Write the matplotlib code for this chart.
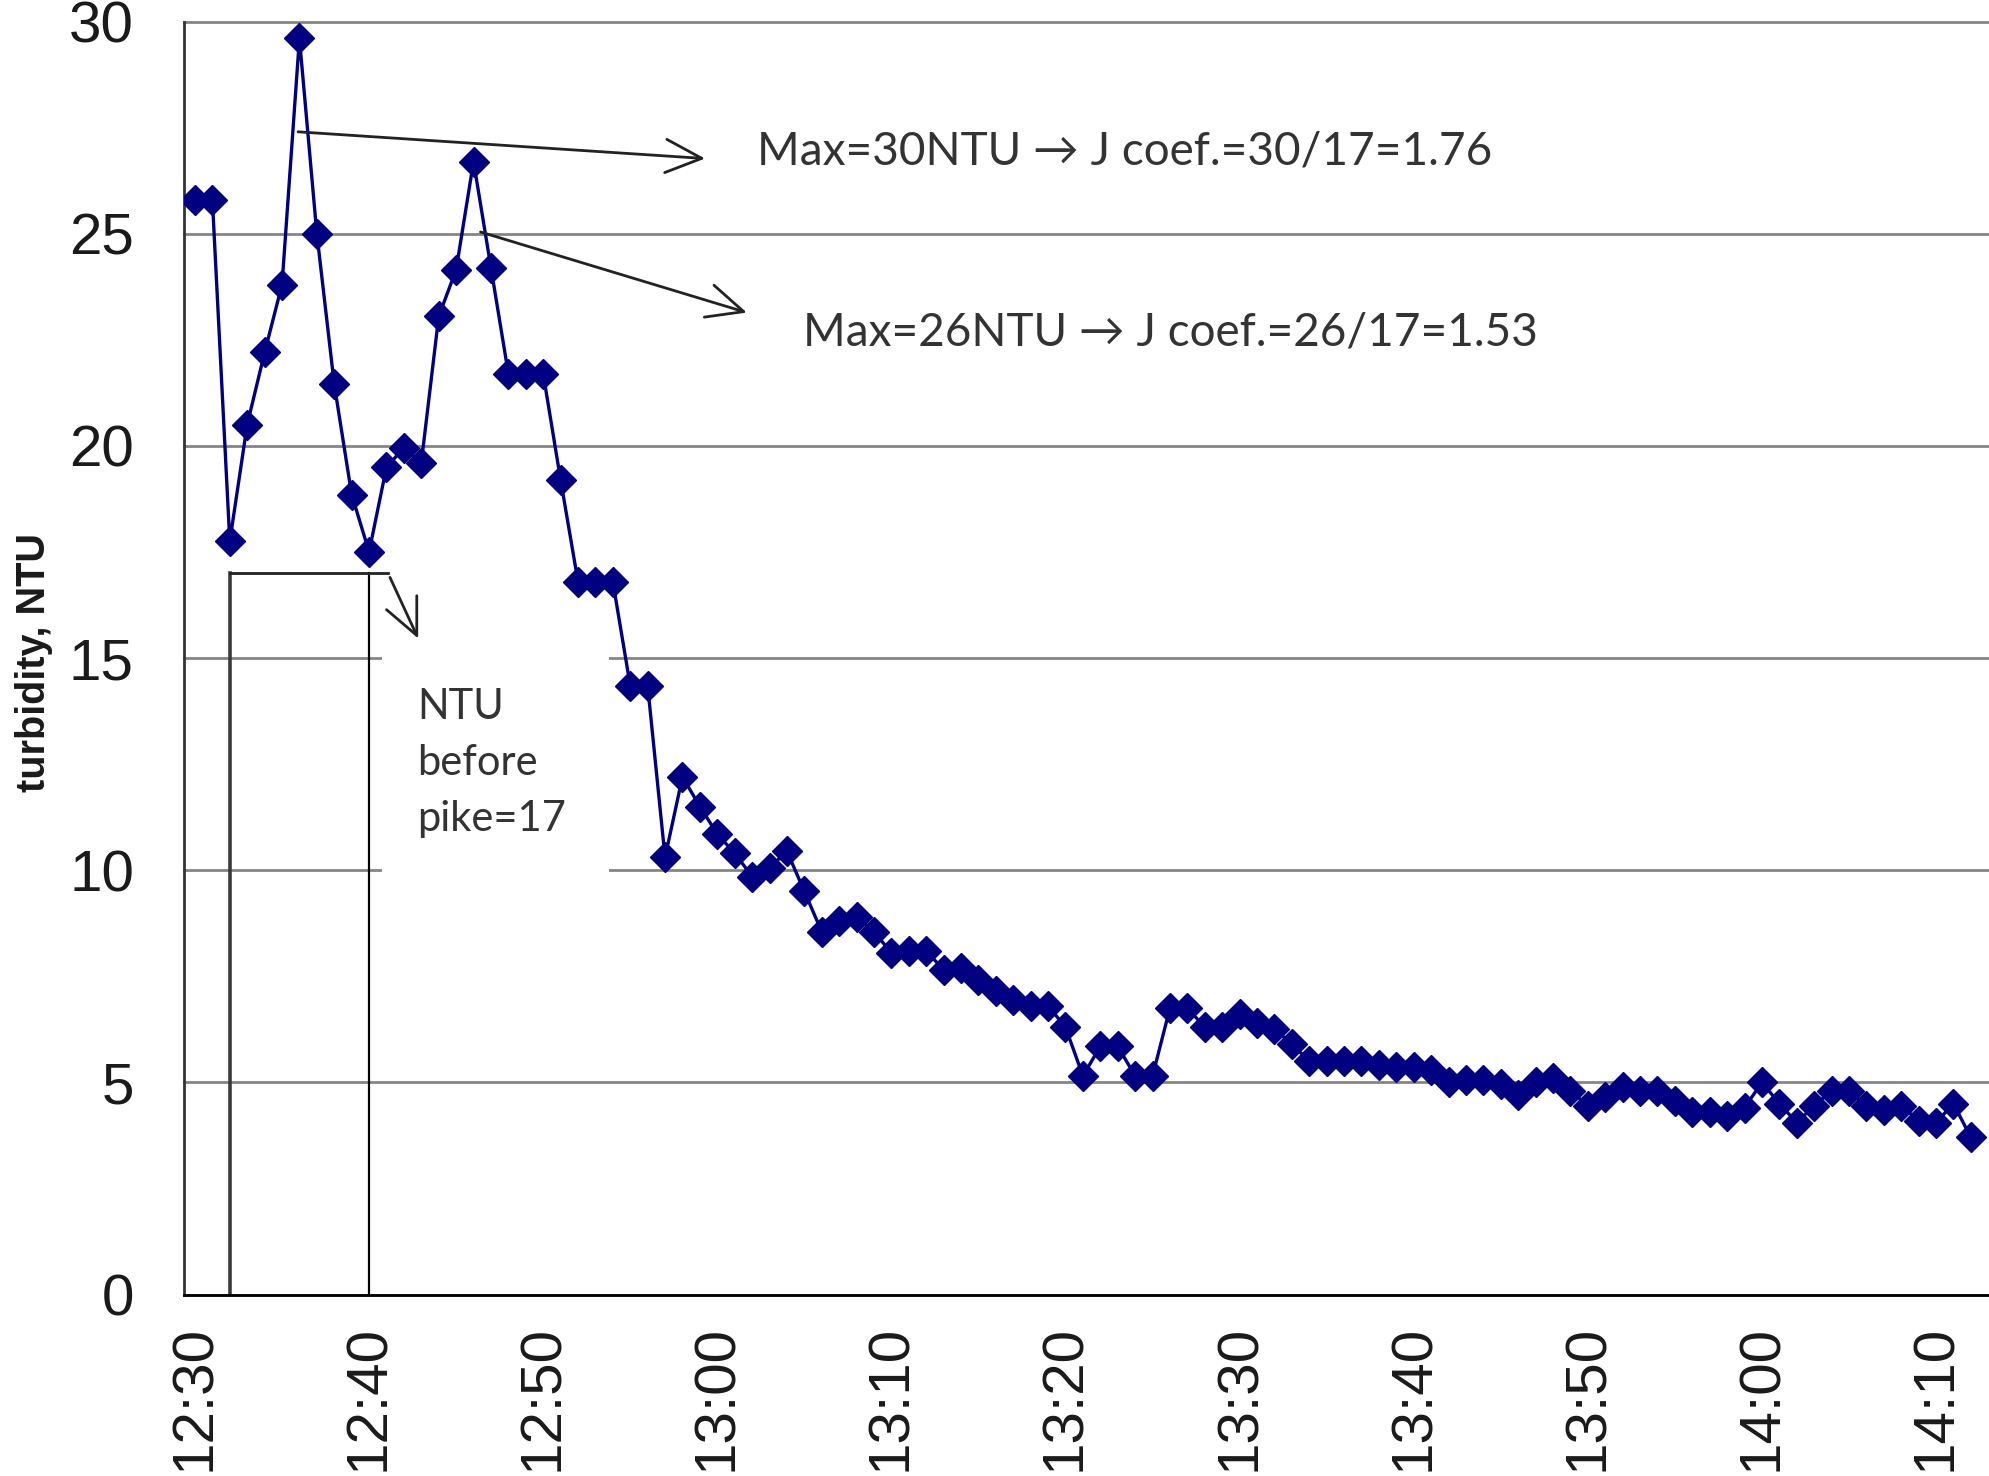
import matplotlib.pyplot as plt
import numpy as np
from matplotlib.patches import Rectangle

# turbidity readings, one per minute starting 12:30
turbidity = [
    25.8, 25.8, 17.75, 20.5, 22.2, 23.8, 29.6, 25.0, 21.45, 18.85,
    17.5, 19.5, 19.95, 19.6, 23.05, 24.15, 26.7, 24.2, 21.7, 21.7,
    21.7, 19.2, 16.8, 16.8, 16.8, 14.35, 14.35, 10.3, 12.2, 11.5,
    10.85, 10.4, 9.85, 10.05, 10.45, 9.5, 8.55, 8.8, 8.9, 8.55,
    8.05, 8.1, 8.1, 7.65, 7.7, 7.4, 7.15, 6.95, 6.8, 6.8,
    6.3, 5.15, 5.85, 5.85, 5.15, 5.15, 6.75, 6.75, 6.3, 6.3,
    6.6, 6.4, 6.25, 5.9, 5.5, 5.5, 5.5, 5.5, 5.4, 5.35,
    5.35, 5.3, 5.0, 5.05, 5.05, 4.95, 4.7, 5.0, 5.1, 4.8,
    4.45, 4.65, 4.9, 4.8, 4.8, 4.55, 4.3, 4.3, 4.2, 4.4,
    5.0, 4.5, 4.05, 4.45, 4.8, 4.8, 4.45, 4.35, 4.45, 4.1,
    4.05, 4.5, 3.7,
]
tick_labels = ["12:30", "12:40", "12:50", "13:00", "13:10", "13:20",
               "13:30", "13:40", "13:50", "14:00", "14:10"]
tick_step = 10
y_ticks = [0, 5, 10, 15, 20, 25, 30]

pre_peak_ntu = 17
pre_peak_start, pre_peak_end = 2, 10
peak_texts = ["Max=30NTU \u2192 J coef.=30/17=1.76",
              "Max=26NTU \u2192 J coef.=26/17=1.53"]
base_text = "NTU\nbefore\npike=17"

x = np.arange(len(turbidity))
note_font = ["Lato", "DejaVu Sans"]

fig = plt.figure(figsize=(19.9, 14.76), dpi=100)
ax = fig.add_axes([184 / 1990, 181.5 / 1476, 1806 / 1990, 1273 / 1476])
ax.set_xlim(-0.63, 103.1)
ax.set_ylim(0, 30)

ax.set_yticks(y_ticks)
ax.set_xticks(x[::tick_step])
ax.set_xticklabels(tick_labels, rotation=90)
ax.tick_params(length=0, labelsize=42, colors="#1a1a1a")
ax.tick_params(axis="y", pad=36)
ax.tick_params(axis="x", pad=22)
for lab in ax.get_xticklabels() + ax.get_yticklabels():
    lab.set_fontfamily("Liberation Sans")

ax.set_axisbelow(True)
ax.yaxis.grid(True, color="#858585", linewidth=2)
for gl in ax.get_ygridlines():
    gl.set_clip_on(False)

for side in ["top", "right"]:
    ax.spines[side].set_visible(False)
ax.spines["left"].set_color("#333333")
ax.spines["left"].set_linewidth(2)
ax.spines["bottom"].set_color("black")
ax.spines["bottom"].set_linewidth(2)

# white text box that hides the grid behind the note
ax.add_patch(Rectangle((10.75, 9.7), 13.05, 5.55, facecolor="white",
                       edgecolor="none", zorder=1))

ax.plot(x, turbidity, color="#000080", linewidth=2.4, marker="D",
        markersize=15, zorder=4)

# bracket marking the level before the peaks
ax.plot([pre_peak_start, pre_peak_start], [0, pre_peak_ntu],
        color="#3a3a3a", linewidth=2.6, zorder=2)
ax.plot([pre_peak_end, pre_peak_end], [0, pre_peak_ntu],
        color="black", linewidth=1.6, zorder=2)
ax.plot([pre_peak_start, 11.1], [pre_peak_ntu, pre_peak_ntu],
        color="#222222", linewidth=2, zorder=2)

arrow_kw = dict(arrowstyle="->,head_length=1.3,head_width=0.6",
                mutation_scale=20, linewidth=2, color="#222222",
                shrinkA=0, shrinkB=0)
ax.annotate("", xy=(29.3, 26.77), xytext=(5.92, 27.4), arrowprops=arrow_kw, zorder=5)
ax.annotate("", xy=(31.7, 23.14), xytext=(16.4, 25.04), arrowprops=arrow_kw, zorder=5)
ax.annotate("", xy=(12.82, 15.46), xytext=(11.2, 16.9), arrowprops=arrow_kw, zorder=5)

ax.text(32.3, 26.93, peak_texts[0], fontsize=33, family=note_font,
        color="#333333", va="center", ha="left", zorder=5)
ax.text(34.9, 22.68, peak_texts[1], fontsize=33, family=note_font,
        color="#333333", va="center", ha="left", zorder=5)
ax.text(12.76, 14.3, base_text, fontsize=30, family=note_font,
        color="#333333", va="top", ha="left", linespacing=1.58, zorder=5)

fig.text(34 / 1990, 1 - 662 / 1476, "turbidity, NTU", rotation=90,
         fontsize=28.5, fontweight="bold", family="Liberation Sans",
         ha="center", va="center", color="#1a1a1a")

fig.savefig("out.png", dpi=100)
